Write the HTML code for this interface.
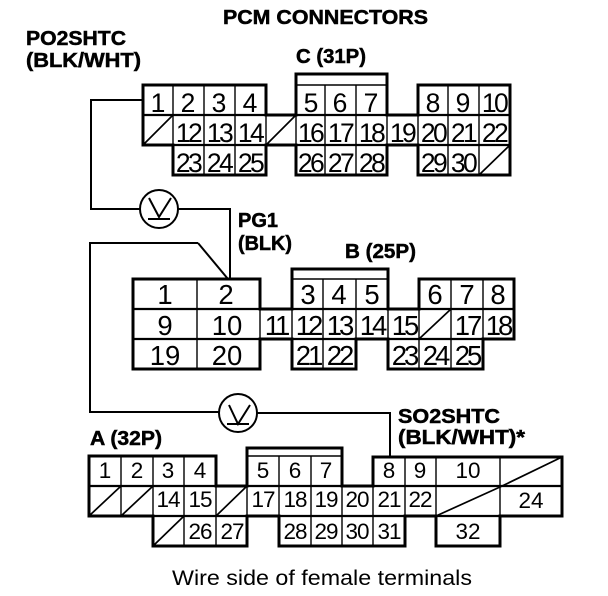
<!DOCTYPE html>
<html>
<head>
<meta charset="utf-8">
<title>PCM Connectors</title>
<style>
html,body{margin:0;padding:0;background:#fff;width:608px;height:596px;overflow:hidden}
svg{display:block}
text{font-family:"Liberation Sans",sans-serif;fill:#000}
.b{font-weight:bold;font-size:20px;stroke:#000;stroke-width:.5}
.o{fill:none;stroke:#000;stroke-width:3}
.h{fill:none;stroke:#000;stroke-width:2.2}
.t{fill:none;stroke:#000;stroke-width:1.4}
.w{fill:none;stroke:#000;stroke-width:2}
.s{fill:none;stroke:#000;stroke-width:1.7}
.n text{text-anchor:middle}
</style>
</head>
<body>
<svg width="608" height="596" viewBox="0 0 608 596" xmlns="http://www.w3.org/2000/svg">
<!-- Wires -->
<path class="w" d="M143 100H91V209H140M178 209H230V279"/>
<path class="w" d="M198 243H90V412H219M257 413H390V457M198 243L228 279"/>
<circle class="w" cx="159" cy="209" r="19"/>
<path class="w" d="M149 198L159 217L171 198M148 219H170"/>
<circle class="w" cx="238" cy="413" r="19"/>
<path class="w" d="M229 405L238 424L250 405M227 424H249"/>

<!-- Connector C -->
<path class="h" d="M143 115H510M143 145H510"/>
<path class="t" d="M296 85H387M173 85V145M204 85V175M235 85V175M266 115V145M296 115V145M325 85V175M356 85V175M387 115V145M418 115V145M448 85V175M479 85V175"/>
<path class="s" d="M143 145L173 115M266 145L296 115M479 175L510 145"/>
<path class="o" d="M143 85H266V115H296V74H387V115H418V85H510V175H418V145H387V175H296V145H266V175H173V145H143Z"/>

<!-- Connector B -->
<path class="h" d="M133 309H514M133 339H483"/>
<path class="t" d="M292 279H388M197 279V369M260 309V339M292 309V339M323 279V369M356 279V339M388 309V339M419 309V369M451 279V369M483 279V339"/>
<path class="s" d="M419 339L451 309"/>
<path class="o" d="M133 279H260V309H292V269H388V309H419V279H514V339H483V369H388V339H356V369H292V339H260V369H133Z"/>

<!-- Connector A -->
<path class="h" d="M89 486H562M153 516H500"/>
<path class="t" d="M247 456H342M121 456V516M153 456V516M184 456V546M216 486V546M247 486V516M279 456V516M311 456V546M342 486V546M373 486V546M405 457V516M436 457V516M500 457V516"/>
<path class="s" d="M89 516L121 486M121 516L153 486M216 516L247 486M153 546L184 516M436 516L500 487M500 487L562 457"/>
<path class="o" d="M89 456H216V486H247V448H342V486H373V457H562V516H500V546H436V516H405V546H279V516H247V546H153V516H89Z"/>

<!-- Bold labels -->
<text class="b" x="223" y="24" textLength="205" lengthAdjust="spacingAndGlyphs">PCM CONNECTORS</text>
<text class="b" x="26" y="45" textLength="100" lengthAdjust="spacingAndGlyphs">PO2SHTC</text>
<text class="b" x="26" y="67" textLength="115" lengthAdjust="spacingAndGlyphs">(BLK/WHT)</text>
<text class="b" x="296" y="63" textLength="70" lengthAdjust="spacingAndGlyphs">C (31P)</text>
<text class="b" x="238" y="227" textLength="40" lengthAdjust="spacingAndGlyphs">PG1</text>
<text class="b" x="238" y="250" textLength="54" lengthAdjust="spacingAndGlyphs">(BLK)</text>
<text class="b" x="345" y="258" textLength="71" lengthAdjust="spacingAndGlyphs">B (25P)</text>
<text class="b" x="398" y="423" textLength="102" lengthAdjust="spacingAndGlyphs">SO2SHTC</text>
<text class="b" x="398" y="444" textLength="127" lengthAdjust="spacingAndGlyphs">(BLK/WHT)*</text>
<text class="b" x="90" y="445" textLength="72" lengthAdjust="spacingAndGlyphs">A (32P)</text>
<text x="172" y="585" font-size="21" textLength="300" lengthAdjust="spacingAndGlyphs">Wire side of female terminals</text>

<!-- C numbers -->
<g class="n" font-size="26.5">
<g>
<text x="158" y="112">1</text><text x="188" y="112">2</text><text x="219" y="112">3</text><text x="250" y="112">4</text>
<text x="311" y="112">5</text><text x="340" y="112">6</text><text x="371" y="112">7</text>
<text x="433" y="112">8</text><text x="463" y="112">9</text>
</g>
<g letter-spacing="-2.6">
<text x="494" y="112">10</text>
<text x="188" y="142">12</text><text x="219" y="142">13</text><text x="250" y="142">14</text>
<text x="310" y="142">16</text><text x="340" y="142">17</text><text x="371" y="142">18</text><text x="402" y="142">19</text>
<text x="433" y="142">20</text><text x="463" y="142">21</text><text x="494" y="142">22</text>
<text x="188" y="172">23</text><text x="219" y="172">24</text><text x="250" y="172">25</text>
<text x="310" y="172">26</text><text x="340" y="172">27</text><text x="371" y="172">28</text>
<text x="433" y="172">29</text><text x="463" y="172">30</text>
</g>
</g>

<!-- B numbers -->
<g class="n" font-size="27.5">
<g>
<text x="165" y="304">1</text><text x="226" y="304">2</text>
<text x="308" y="304">3</text><text x="339" y="304">4</text><text x="372" y="304">5</text>
<text x="435" y="304">6</text><text x="467" y="304">7</text><text x="498" y="304">8</text>
<text x="165" y="335">9</text><text x="227" y="335">10</text>
<text x="165" y="365">19</text><text x="227" y="365">20</text>
</g>
<g letter-spacing="-3">
<text x="276" y="335">11</text><text x="308" y="335">12</text><text x="339" y="335">13</text><text x="372" y="335">14</text><text x="404" y="335">15</text>
<text x="467" y="335">17</text><text x="498" y="335">18</text>
<text x="308" y="365">21</text><text x="339" y="365">22</text>
<text x="404" y="365">23</text><text x="435" y="365">24</text><text x="467" y="365">25</text>
</g>
</g>

<!-- A numbers -->
<g class="n" font-size="22.5">
<text x="105" y="478">1</text><text x="137" y="478">2</text><text x="168" y="478">3</text><text x="200" y="478">4</text>
<text x="263" y="478">5</text><text x="295" y="478">6</text><text x="326" y="478">7</text>
<text x="389" y="478">8</text><text x="420" y="478">9</text><text x="468" y="478">10</text>
<text x="531" y="508">24</text><text x="468" y="539">32</text>
<g letter-spacing="-1">
<text x="168" y="507">14</text><text x="200" y="507">15</text>
<text x="263" y="507">17</text><text x="295" y="507">18</text><text x="326" y="507">19</text><text x="357" y="507">20</text><text x="389" y="507">21</text><text x="420" y="507">22</text>
<text x="200" y="539">26</text><text x="232" y="539">27</text>
<text x="295" y="539">28</text><text x="326" y="539">29</text><text x="357" y="539">30</text><text x="389" y="539">31</text>
</g>
</g>
</svg>
</body>
</html>
